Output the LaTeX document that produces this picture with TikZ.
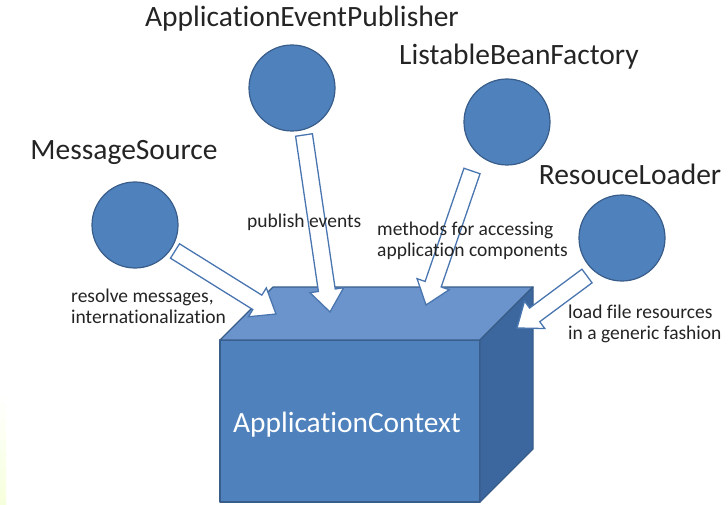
\documentclass[tikz,border=0pt]{standalone}
\usepackage{fontspec}
\setmainfont[Ligatures=NoCommon]{Carlito}
\usetikzlibrary{calc}

\definecolor{boxfront}{RGB}{79,129,189}
\definecolor{boxtop}{RGB}{106,148,203}
\definecolor{boxside}{RGB}{60,102,158}
\definecolor{boxedge}{RGB}{56,93,138}
\definecolor{flowedge}{RGB}{74,118,176}
\definecolor{txt}{RGB}{36,36,36}

\tikzset{
  iface/.style={circle, minimum size=86pt, inner sep=0pt, fill=boxfront, draw=boxedge, line width=1.2pt},
  title/.style={anchor=base, inner sep=0pt, text=txt, font=\fontsize{29.5}{32}\selectfont},
  note/.style={anchor=base west, inner sep=0pt, align=left, text=txt, font=\fontsize{19.5}{21}\selectfont},
  flow/.style={draw=flowedge, fill=white, line width=1.3pt, line join=miter},
  face/.style={fill=#1, draw=boxedge, line width=1.2pt, line join=round},
}

% hollow block arrow from #1 to #2
\newcommand{\blockarrow}[2]{%
  \path ($(#2)!22pt!(#1)$) coordinate (neck);
  \draw[flow] ($(#1)!8.5pt!90:(#2)$) -- ($(neck)!8.5pt!90:(#2)$) -- ($(neck)!17pt!90:(#2)$)
    -- (#2) -- ($(neck)!17pt!-90:(#2)$) -- ($(neck)!8.5pt!-90:(#2)$) -- ($(#1)!8.5pt!-90:(#2)$) -- cycle;
}

\begin{document}
\begin{tikzpicture}[x=1pt,y=-1pt]
\useasboundingbox (0,0) rectangle (728,505);
\shade[top color=white, bottom color=lime!14] (0,395) rectangle (6,505);

% the context box
\draw[face=boxfront] (220,340) rectangle (480,502);
\draw[face=boxtop] (220,340)--(273,287)--(533,287)--(480,340)--cycle;
\draw[face=boxside] (480,340)--(533,287)--(533,449)--(480,502)--cycle;
\node[anchor=base, inner sep=0pt, text=white, font=\fontsize{29.4}{32}\selectfont] (ctx) at (347,432) {ApplicationContext};

% interfaces
\node[iface] (ms)  at (135,225) {};
\node[iface] (aep) at (292,88)  {};
\node[iface] (lbf) at (507,122) {};
\node[iface] (rl)  at (622,238) {};

\node[title] (msName)  at (124,160) {MessageSource};
\node[title] (aepName) at (302,27)  {ApplicationEventPublisher};
\node[title] (lbfName) at (519,65)  {ListableBeanFactory};
\node[title] (rlName)  at (630,185) {ResouceLoader};

% arrow ends
\coordinate (msTail)  at (175,251);
\coordinate (msTip)   at (276,314);
\coordinate (aepTail) at (304,135);
\coordinate (aepTip)  at (330,312);
\coordinate (lbfTail) at (472,171);
\coordinate (lbfTip)  at (426,305);
\coordinate (rlTail)  at (587,276);
\coordinate (rlTip)   at (517,328);

\blockarrow{msTail}{msTip}
\blockarrow{aepTail}{aepTip}
\blockarrow{lbfTail}{lbfTip}
\blockarrow{rlTail}{rlTip}

% notes (base = last line)
\node[note] (msNote)  at (71,323)  {resolve messages,\\internationalization};
\node[note] (aepNote) at (247,228) {publish events};
\node[note] (lbfNote) at (377,256) {methods for accessing\\application components};
\node[note] (rlNote)  at (568,339) {load file resources\\in a generic fashion};

\end{tikzpicture}
\end{document}
